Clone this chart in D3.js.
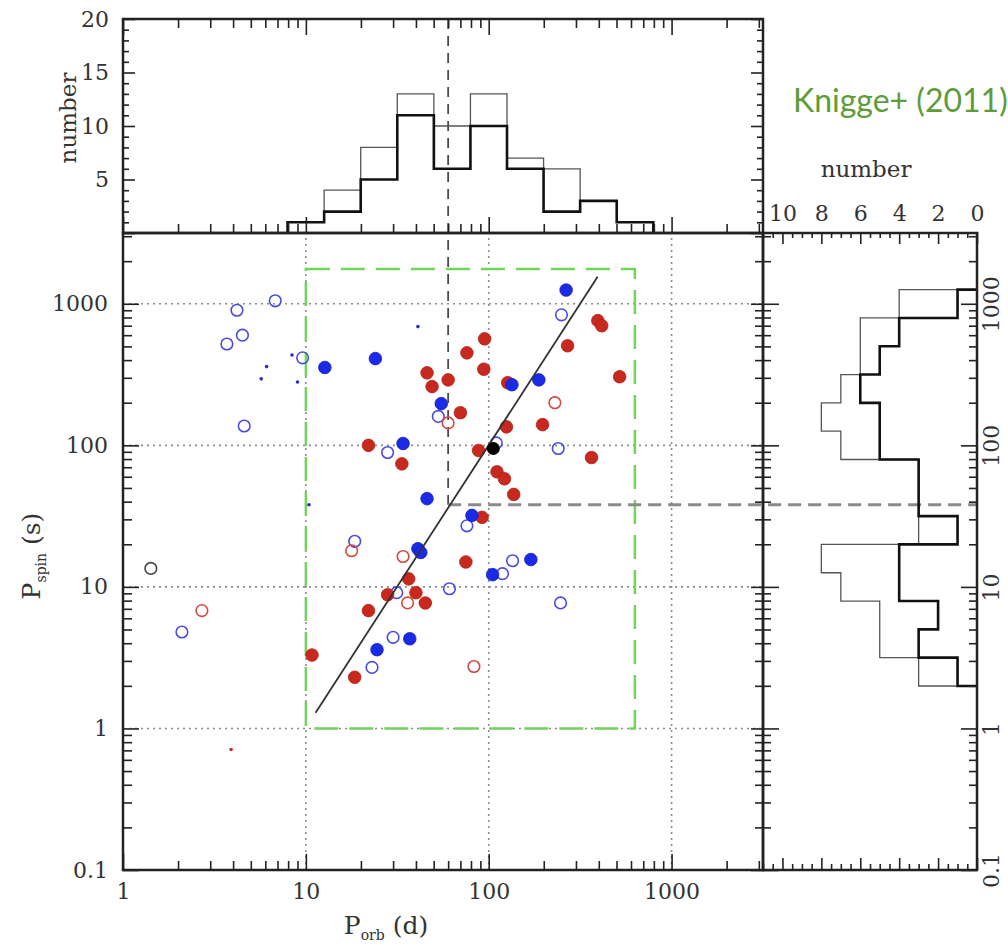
<!DOCTYPE html>
<html>
<head>
<meta charset="utf-8">
<script src="https://cdn.jsdelivr.net/npm/d3@7"></script>
<style>
  body { margin: 0; background: #fff; }
  svg { display: block; }
</style>
</head>
<body>
<script>
// values: [Porb (d), Pspin (s)]
var redFilled = [[22,100],[10.8,3.3],[22,6.8],[28,8.8],[18.5,2.3],[395,760],[415,700],[95,565],[270,505],[76,450],
  [46,325],[94,345],[60,290],[49,260],[127,277],[520,305],[70,170],[125,135],[197,140],[88,92],[33.5,74],[365,82],
  [111,65],[122,58],[137,45],[92,31],[75,15],[36.5,11.4],[40,9.1],[45,7.7]];
var blueFilled = [[12.7,355],[24,410],[24.5,3.6],[265,1250],[134,268],[188,290],[55,197],[34,103],[46,42],[81,32],
  [41,18.6],[42.5,17.5],[170,15.6],[105,12.2],[37,4.3]];
var blackFilled = [[106,95]];
var redOpen = [[17.8,18],[2.7,6.8],[60,144],[230,200],[34,16.4],[36,7.7],[83,2.74]];
var blueOpen = [[4.2,900],[6.8,1050],[3.7,520],[4.5,600],[9.6,415],[4.6,137],[28,89],[18.5,21],[2.1,4.8],[30,4.4],
  [23,2.7],[250,835],[53,160],[110,104],[240,95],[76,27],[135,15.3],[119,12.4],[31.4,9.1],[61,9.7],[247,7.7]];
var blackOpen = [[1.42,13.5]];
var blueDots = [[8.4,435],[6.1,360],[5.7,295],[9.0,280],[41,690],[10.4,38]];
var redDots = [[3.9,0.71]];

var fitLine = [[11.3,1.29],[394,1550]];   // Pspin ~ Porb^2
var boxPorb = [10, 630], boxPspin = [1, 1760];
var cutPorb = 60, cutPspin = 38;

// histograms (bin edges in log10)
var orbEdges = [0.9,1.1,1.3,1.5,1.7,1.9,2.1,2.3,2.5,2.7,2.9];
var orbAll = [1,4,8,13,10,13,7,6,3,1];
var orbFilled = [1,2,5,11,6,10,6,2,3,1];
var spinEdges = [0.3,0.5,0.7,0.9,1.1,1.3,1.5,1.7,1.9,2.1,2.3,2.5,2.7,2.9,3.1];
var spinAll = [3,5,5,7,8,3,3,3,7,8,7,6,6,4];
var spinFilled = [1,3,2,4,4,1,3,3,5,5,6,5,4,1];

var svg = d3.select("body").append("svg").attr("width", 1008).attr("height", 948);

var x = d3.scaleLog().domain([1, Math.pow(10, 3.5)]).range([123, 763]);
var y = d3.scaleLog().domain([0.1, Math.pow(10, 3.5)]).range([870, 233]);
var yN = d3.scaleLinear().domain([0, 20]).range([233, 19]);
var xN = d3.scaleLinear().domain([11, 0]).range([763, 977]);

var FONT = "'DejaVu Serif', serif";
var fmt = d3.format("~g");
function isMajor(v) { return Math.abs(Math.log10(v) - Math.round(Math.log10(v))) < 1e-6; }
var xMajor = x.ticks().filter(isMajor), xMinor = x.ticks().filter(function (v) { return !isMajor(v); });
var yMajor = y.ticks().filter(isMajor), yMinor = y.ticks().filter(function (v) { return !isMajor(v); });
var nMajor = yN.ticks(4), nMinor = yN.ticks(20).filter(function (v) { return v % 5; });
var hMajor = xN.ticks(5), hMinor = xN.ticks(20).filter(function (v) { return v % 2; });

function ticks(axis, tx, ty, values, size, labels, pad) {
  var g = svg.append("g").attr("transform", "translate(" + tx + "," + ty + ")")
    .call(axis.tickValues(values).tickSize(size).tickSizeOuter(0).tickPadding(pad || 3)
      .tickFormat(labels || function () { return ""; }));
  g.select(".domain").remove();
  g.selectAll(".tick line").attr("stroke", "#222").attr("stroke-width", 1.6);
  g.selectAll(".tick text").attr("fill", "#333").style("font-family", FONT).style("font-size", "22px");
  return g;
}

// grid
var grid = svg.append("g").attr("stroke", "#8c8c8c").attr("stroke-width", 1.6).attr("stroke-dasharray", "2,4");
grid.selectAll("line.v").data(xMajor.filter(function (v) { return v > 1; })).enter().append("line")
  .attr("x1", x).attr("x2", x).attr("y1", y.range()[0]).attr("y2", y.range()[1]);
grid.selectAll("line.h").data(yMajor.filter(function (v) { return v > 0.1; })).enter().append("line")
  .attr("y1", y).attr("y2", y).attr("x1", x.range()[0]).attr("x2", x.range()[1]);

// green selection box
svg.append("rect")
  .attr("x", x(boxPorb[0])).attr("y", y(boxPspin[1]))
  .attr("width", x(boxPorb[1]) - x(boxPorb[0])).attr("height", y(boxPspin[0]) - y(boxPspin[1]))
  .attr("fill", "none").attr("stroke", "#72d45c").attr("stroke-width", 2.5).attr("stroke-dasharray", "24,11");

// dashed cuts
svg.append("line").attr("x1", x(cutPorb)).attr("x2", x(cutPorb)).attr("y1", yN(20)).attr("y2", y(cutPspin))
  .attr("stroke", "#4a4a4a").attr("stroke-width", 1.8).attr("stroke-dasharray", "10,7");
svg.append("line").attr("x1", x(cutPorb)).attr("x2", xN(0)).attr("y1", y(cutPspin)).attr("y2", y(cutPspin))
  .attr("stroke", "#8a8a8a").attr("stroke-width", 3).attr("stroke-dasharray", "13,7");

// points
function dots(data, r, fill, stroke, sw) {
  svg.append("g").selectAll("circle").data(data).enter().append("circle")
    .attr("cx", function (d) { return x(d[0]); }).attr("cy", function (d) { return y(d[1]); })
    .attr("r", r).attr("fill", fill).attr("stroke", stroke).attr("stroke-width", sw);
}
dots(blueOpen, 5.8, "none", "#4b4be2", 1.6);
dots(redOpen, 5.8, "none", "#d24a44", 1.6);
dots(blackOpen, 5.8, "none", "#444", 1.6);
dots(blueDots, 1.8, "#2a2ad0", "none", 0);
dots(redDots, 1.8, "#c8281e", "none", 0);
dots(redFilled, 6.3, "#c8281e", "#b02218", 0.8);
dots(blueFilled, 6.3, "#1a2ae6", "#1420c0", 0.8);

svg.append("path").datum(fitLine)
  .attr("d", d3.line().x(function (d) { return x(d[0]); }).y(function (d) { return y(d[1]); }))
  .attr("stroke", "#333").attr("stroke-width", 1.8).attr("fill", "none");
dots(blackFilled, 6.5, "#000", "none", 0);

// histograms
function steps(edges, counts) {
  var pts = [[edges[0], 0]];
  counts.forEach(function (c, i) { pts.push([edges[i], c], [edges[i + 1], c]); });
  pts.push([edges[edges.length - 1], 0]);
  return pts;
}
var topLine = d3.line().x(function (d) { return x(Math.pow(10, d[0])); }).y(function (d) { return yN(d[1]); });
var sideLine = d3.line().x(function (d) { return xN(d[1]); }).y(function (d) { return y(Math.pow(10, d[0])); });
svg.append("path").attr("d", topLine(steps(orbEdges, orbAll))).attr("fill", "none").attr("stroke", "#555").attr("stroke-width", 1.3);
svg.append("path").attr("d", topLine(steps(orbEdges, orbFilled))).attr("fill", "none").attr("stroke", "#111").attr("stroke-width", 2.6);
svg.append("path").attr("d", sideLine(steps(spinEdges, spinAll))).attr("fill", "none").attr("stroke", "#555").attr("stroke-width", 1.3);
svg.append("path").attr("d", sideLine(steps(spinEdges, spinFilled))).attr("fill", "none").attr("stroke", "#111").attr("stroke-width", 2.6);

// frames
[[x.range()[0], yN.range()[1], x.range()[1], yN.range()[0]],
 [x.range()[0], y.range()[1], x.range()[1], y.range()[0]],
 [xN.range()[0], y.range()[1], xN.range()[1], y.range()[0]]].forEach(function (b) {
  svg.append("rect").attr("x", b[0]).attr("y", b[1]).attr("width", b[2] - b[0]).attr("height", b[3] - b[1])
    .attr("fill", "none").attr("stroke", "#222").attr("stroke-width", 2.5);
});

// main plot axes
ticks(d3.axisBottom(x), 0, 870, xMinor, -9);
ticks(d3.axisBottom(x), 0, 870, xMajor, -16, fmt, 13);
ticks(d3.axisLeft(y), 123, 0, yMinor, -9);
ticks(d3.axisLeft(y), 123, 0, yMajor, -16, fmt, 15);
ticks(d3.axisLeft(y), 763, 0, yMinor, 8);
ticks(d3.axisLeft(y), 763, 0, yMajor, 12);

// top histogram axes
ticks(d3.axisBottom(x), 0, 233, xMinor, -9);
ticks(d3.axisBottom(x), 0, 233, xMajor, -16);
ticks(d3.axisTop(x), 0, 19, xMinor, -9);
ticks(d3.axisTop(x), 0, 19, xMajor, -16);
ticks(d3.axisLeft(yN), 123, 0, nMinor, -6);
ticks(d3.axisLeft(yN), 123, 0, nMajor, -12, function (d) { return d ? d : ""; }, 14);
ticks(d3.axisLeft(yN), 763, 0, nMinor, 6);
ticks(d3.axisLeft(yN), 763, 0, nMajor, 12);

// side histogram axes
ticks(d3.axisRight(y), 763, 0, yMinor, 8);
ticks(d3.axisRight(y), 763, 0, yMajor, 16);
ticks(d3.axisRight(y), 977, 0, yMinor, -8);
var rl = ticks(d3.axisRight(y), 977, 0, yMajor, -16, fmt, 0);
rl.selectAll(".tick text").attr("x", null).attr("dy", null).attr("text-anchor", "middle")
  .attr("dominant-baseline", "central").attr("transform", "translate(14,0) rotate(-90)");
ticks(d3.axisTop(xN), 0, 232, hMinor, -6);
ticks(d3.axisTop(xN), 0, 232, hMajor, -12, fmt, 11);
ticks(d3.axisBottom(xN), 0, 870, hMinor, -6);
ticks(d3.axisBottom(xN), 0, 870, hMajor, -12);

// axis titles
function title(tx, ty, rot, parts, size) {
  var t = svg.append("text").attr("transform", "translate(" + tx + "," + ty + ") rotate(" + rot + ")")
    .attr("text-anchor", "middle").attr("fill", "#333").style("font-family", FONT).style("font-size", size + "px");
  parts.forEach(function (p) {
    t.append("tspan").text(p[0]).attr("dy", p[1]).style("font-size", p[2] ? p[2] + "px" : null);
  });
}
title(76, 118, -90, [["number", 0]], 23);
title(866, 177, 0, [["number", 0]], 23);
title(40, 556, -90, [["P", 0], ["spin", 6, 14], [" (s)", -6]], 25);
title(386, 934, 0, [["P", 0], ["orb", 6, 14], [" (d)", -6]], 25);

svg.append("text").attr("x", 793).attr("y", 112).text("Knigge+ (2011)")
  .attr("fill", "#5e9c3a").style("font-family", "Lato, sans-serif").style("font-size", "32px");
</script>
</body>
</html>
